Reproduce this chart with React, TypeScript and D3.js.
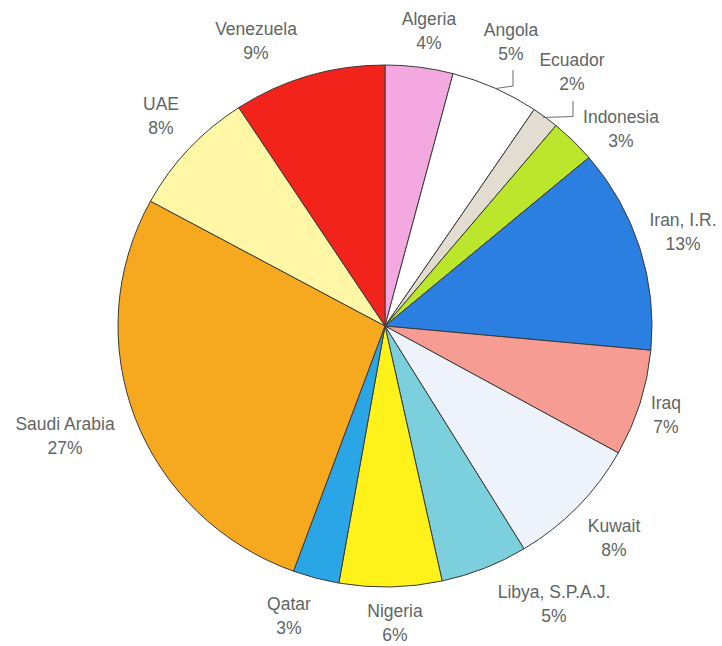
import React from "react";
import * as d3 from "d3";

const countries = [
  "Algeria", "Angola", "Ecuador", "Indonesia", "Iran, I.R.", "Iraq", "Kuwait",
  "Libya, S.P.A.J.", "Nigeria", "Qatar", "Saudi Arabia", "UAE", "Venezuela",
];
const shares = [4.1, 5.33, 1.63, 2.77, 12.64, 6.6, 8.2, 5.28, 6.2, 2.8, 27.36, 7.84, 9.22];
const pctLabels = ["4%", "5%", "2%", "3%", "13%", "7%", "8%", "5%", "6%", "3%", "27%", "8%", "9%"];
const colors = [
  "#f3a9df", "#ffffff", "#e2ddd0", "#bce62c", "#2b7fe0", "#f79c93", "#eef2fb",
  "#7ccfdc", "#fff21a", "#2aa6e6", "#f6a81f", "#fff6a6", "#f1231a",
];

// layout: label anchor (center x, first baseline y)
const labelLayout: [number, number][] = [
  [429, 25], [511, 36], [572, 66], [621, 123], [683, 226], [666, 409], [614, 532],
  [554, 598], [395, 617], [289, 610], [65, 430], [161, 110], [256, 35],
];
// leader polylines (layout)
const leaders: [number, number][][] = [
  [[513, 70], [513, 86], [496, 88.5]],
  [[573, 101], [573, 116.5], [543, 117.5]],
];

const W = 722, H = 646;
const CX = 385, CY = 326, RX = 267, RY = 261;

export default function App() {
  const pie = d3.pie<number>().sort(null).value((d) => d)(shares);
  const arc = d3.arc<d3.PieArcDatum<number>>().innerRadius(0).outerRadius(RX);
  const textColor = "#5e6665";
  return (
    <svg width={W} height={H} style={{ position: "absolute", left: 0, top: 0, background: "#fff" }}
      fontFamily="'Liberation Sans', Arial, sans-serif">
      <g transform={`translate(${CX},${CY}) scale(1,${RY / RX})`}>
        {pie.map((p, i) => (
          <path key={i} d={arc(p) || ""} fill={colors[i]} stroke="#3a3a3a" strokeWidth={1}
            vectorEffect="non-scaling-stroke" strokeLinejoin="round" />
        ))}
      </g>
      {leaders.map((pts, i) => (
        <polyline key={i} points={pts.map((p) => p.join(",")).join(" ")} fill="none"
          stroke="#6a6f6e" strokeWidth={1} />
      ))}
      {countries.map((c, i) => (
        <text key={c} x={labelLayout[i][0]} y={labelLayout[i][1]} textAnchor="middle"
          fontSize={17.5} fill={textColor}>
          <tspan x={labelLayout[i][0]}>{c}</tspan>
          <tspan x={labelLayout[i][0]} dy={24}>{pctLabels[i]}</tspan>
        </text>
      ))}
    </svg>
  );
}
